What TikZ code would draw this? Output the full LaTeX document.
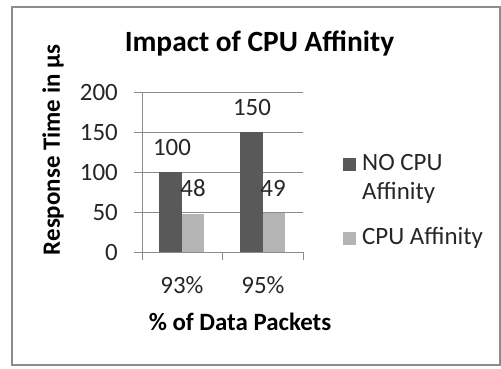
\documentclass[tikz,border=0pt]{standalone}
\usepackage{fontspec}
\setmainfont{Carlito}
\definecolor{bardark}{HTML}{595959}
\definecolor{barlight}{HTML}{B4B4B4}
\definecolor{gridgray}{HTML}{8C8C8C}
\definecolor{textgray}{HTML}{262626}
\usetikzlibrary{positioning}

\begin{document}
\begin{tikzpicture}[x=1bp,y=-1bp,
  lbl/.style={font=\fontsize{25}{29}\selectfont, text=textgray, inner sep=0pt},
  ttl/.style={font=\fontsize{25}{29}\selectfont\bfseries, text=black, inner sep=0pt}]
  \useasboundingbox (0,0) rectangle (501,368);
  \draw[gridgray, line width=1.6bp] (12,7) rectangle (500,365);
  % title and axis titles
  \node[ttl, font=\fontsize{29.5}{32}\selectfont\bfseries] (title) at (259.5,43) {Impact of CPU Affinity};
  \node[ttl, rotate=90] (ytitle) at (53,150) {Response Time in µs};
  \node[ttl] (xtitle) at (240,322) {\% of Data Packets};
  % grid and y labels
  \foreach \v in {0,50,100,150,200} {
    \draw[gridgray, line width=0.8bp] (134,252-0.8*\v) -- (303,252-0.8*\v);
    \node[lbl, anchor=east] (y\v) at (118,252-0.8*\v) {\v};
  }
  % bars
  \fill[bardark] (159,252) rectangle (182,252-0.8*100);
  \fill[barlight] (182,252) rectangle (204,252-0.8*48);
  \fill[bardark] (240,252) rectangle (263,252-0.8*150);
  \fill[barlight] (263,252) rectangle (285,252-0.8*49);
  % axes
  \draw[gridgray, line width=0.8bp] (142,92) -- (142,260);
  \draw[gridgray, line width=0.8bp] (134,252) -- (303,252);
  \foreach \x in {222,303} \draw[gridgray, line width=0.8bp] (\x,252) -- (\x,260);
  % categories and values
  \node[lbl] (c93) at (182,285) {93\%};
  \node[lbl] (c95) at (263,285) {95\%};
  \node[lbl] (v100) at (172,147) {100};
  \node[lbl] (v48) at (193,188) {48};
  \node[lbl] (v150) at (252,107) {150};
  \node[lbl] (v49) at (273,188) {49};
  % legend
  \fill[bardark] (343,158) rectangle (356,171);
  \node[lbl, anchor=west, align=left] (leg1) at (362,178.5) {NO CPU\\Affinity};
  \fill[barlight] (343,232) rectangle (356,245);
  \node[lbl, anchor=west] (leg2) at (362,238) {CPU Affinity};
\end{tikzpicture}
\end{document}
